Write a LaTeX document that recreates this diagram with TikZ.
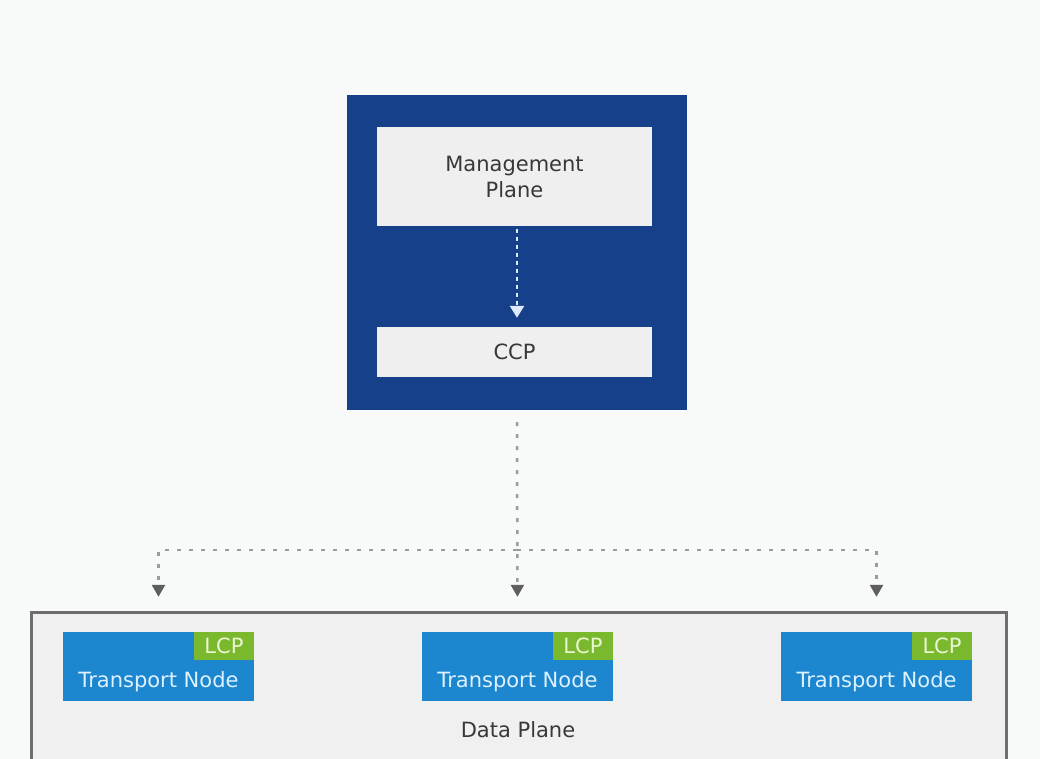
\documentclass[tikz,border=0pt]{standalone}
\usepackage{fontspec}
\setmainfont{DejaVu Sans}
\usetikzlibrary{arrows.meta}

\definecolor{pagebg}{HTML}{F8F9F9}
\definecolor{ctrlblue}{HTML}{17408A}
\definecolor{planegrey}{HTML}{EFEFEF}
\definecolor{planetext}{HTML}{383838}
\definecolor{dpfill}{HTML}{F0F0F0}
\definecolor{dpline}{HTML}{6E6E6E}
\definecolor{tnblue}{HTML}{1C86CF}
\definecolor{tnwhite}{HTML}{DDF1FF}
\definecolor{lcpgreen}{HTML}{7AB92E}
\definecolor{lcptext}{HTML}{EAF6D2}
\definecolor{feedgrey}{HTML}{9C9C9C}
\definecolor{tipgrey}{HTML}{5E5E5E}
\definecolor{mpwhite}{HTML}{DCE9FF}

\tikzset{
  txt/.style={font=\fontsize{21pt}{26pt}\selectfont},
  planebox/.style={txt, fill=planegrey, text=planetext, minimum width=275pt, inner sep=0pt, align=center},
  tnbox/.style={fill=tnblue, minimum width=191pt, minimum height=69pt, inner sep=0pt},
  lcpbox/.style={txt, fill=lcpgreen, text=lcptext, minimum width=60pt, minimum height=28pt, inner sep=0pt},
  tnlabel/.style={txt, text=tnwhite, inner sep=0pt},
  feed/.style={draw=feedgrey, line width=2.5pt, dash pattern=on 4pt off 8pt,
    -{Triangle[width=13pt,length=12pt,color=tipgrey]}},
  mpflow/.style={draw=mpwhite, line width=2.5pt, dash pattern=on 4pt off 4pt,
    -{Triangle[width=14pt,length=12pt,color=mpwhite]}}
}

\begin{document}
\begin{tikzpicture}[x=1pt,y=-1pt]
  \clip (0,0) rectangle (1040,759);
  \fill[pagebg] (0,0) rectangle (1040,759);

  \node (cp) [fill=ctrlblue, minimum width=340pt, minimum height=315pt, inner sep=0pt] at (517,252.5) {};
  \node (mp) [planebox, minimum height=99pt] at (514.5,176.5) {Management\\Plane};
  \node (ccp) [planebox, minimum height=50pt] at (514.5,352) {CCP};
  \draw[mpflow, shorten <=3pt, shorten >=9pt] (mp.south -| cp) -- (ccp.north -| cp);

  \node (dp) [fill=dpfill, draw=dpline, line width=2.5pt, minimum width=975pt, minimum height=180pt,
    anchor=north west, inner sep=0pt] at (30,611) {};
  \node (dpl) [txt, text=planetext] at (518,730) {Data Plane};

  \foreach \n/\x in {1/158.5,2/517.5,3/876.5} {
    \node (tn\n) [tnbox] at (\x,666.5) {};
    \node (lcp\n) [lcpbox, anchor=north east] at (tn\n.north east) {LCP};
    \node (tnl\n) [tnlabel] at ([yshift=-15pt]tn\n.center) {Transport Node};
  }

  \coordinate (hub) at (517,550);
  \draw[feed, shorten <=12pt, shorten >=35pt] (cp.south) -- (tn2.north);
  \draw[feed, shorten >=35pt] (hub) -| (tn1.north);
  \draw[feed, shorten >=35pt] (hub) -| (tn3.north);
\end{tikzpicture}
\end{document}
